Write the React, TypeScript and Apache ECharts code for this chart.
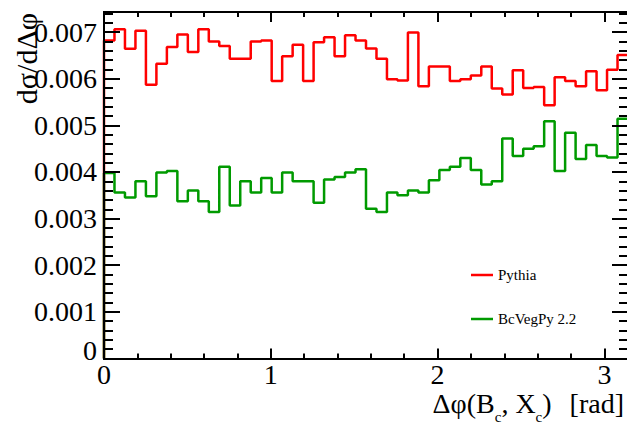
import React, { useEffect, useRef } from 'react';
import * as echarts from 'echarts';

// Histogram range / binning (x in rad)
const X_MIN = 0;
const X_MAX = Math.PI;
const N_BINS = 50;
const Y_MIN = 0;
const Y_MAX = 0.00743;

const seriesNames = ['Pythia', 'BcVegPy 2.2'];

// dσ/dΔφ per bin, Pythia (red)
const pythia = [
  0.00682, 0.00706, 0.00664, 0.00703, 0.00587, 0.00632, 0.00668, 0.00695, 0.00657, 0.00706,
  0.00680, 0.00670, 0.00643, 0.00643, 0.00680, 0.00682, 0.00595, 0.00648, 0.00673, 0.00595,
  0.00678, 0.00689, 0.00648, 0.00693, 0.00682, 0.00665, 0.00643, 0.00599, 0.00596, 0.00699,
  0.00584, 0.00626, 0.00626, 0.00595, 0.00599, 0.00607, 0.00626, 0.00579, 0.00566, 0.00618,
  0.00580, 0.00582, 0.00543, 0.00603, 0.00595, 0.00584, 0.00616, 0.00575, 0.00619, 0.00651,
];

// dσ/dΔφ per bin, BcVegPy 2.2 (green)
const bcvegpy = [
  0.00398, 0.00356, 0.00345, 0.00380, 0.00348, 0.00399, 0.00402, 0.00337, 0.00360, 0.00337,
  0.00314, 0.00411, 0.00328, 0.00380, 0.00356, 0.00387, 0.00356, 0.00399, 0.00380, 0.00380,
  0.00334, 0.00384, 0.00389, 0.00399, 0.00406, 0.00321, 0.00314, 0.00356, 0.00350, 0.00360,
  0.00356, 0.00382, 0.00404, 0.00411, 0.00430, 0.00404, 0.00373, 0.00380, 0.00472, 0.00434,
  0.00450, 0.00455, 0.00509, 0.00402, 0.00484, 0.00428, 0.00458, 0.00434, 0.00431, 0.00514,
];

const X_MAJOR = 1;
const X_MINOR = 0.2;
const Y_MAJOR = 0.001;
const Y_MINOR = 0.0002;

// x-axis title pieces: [text, isSubscript]
const xTitleParts: [string, boolean][] = [
  ['Δφ(B', false],
  ['c', true],
  [', X', false],
  ['c', true],
  [')', false],
  ['[rad]', false],
];
const yTitle = 'dσ/dΔφ';

const FONT_NAME = 'Liberation Serif';
const FONT = '"Liberation Serif", "Times New Roman", Times, serif';
const RED = '#ff0000';
const GREEN = '#009a00';

export default function App() {
  const ref = useRef<HTMLDivElement>(null);

  useEffect(() => {
    document.body.style.margin = '0';
    const chart = echarts.init(ref.current!, null, { renderer: 'svg' });

    const edges = Array.from({ length: N_BINS + 1 }, (_, i) => X_MIN + ((X_MAX - X_MIN) * i) / N_BINS);
    const toSteps = (vals: number[]) => {
      const pts: number[][] = [[edges[0], 0]];
      vals.forEach((v, i) => pts.push([edges[i], v]));
      pts.push([edges[N_BINS], vals[N_BINS - 1]]);
      return pts;
    };

    // measure title pieces to lay them out as a right-aligned line with subscripts
    const ctx = document.createElement('canvas').getContext('2d')!;
    const MAIN = 28;
    const SUB = 15;
    const measure = (t: string, size: number) => {
      ctx.font = `${size}px "${FONT_NAME}", serif`;
      return ctx.measureText(t).width;
    };
    const GAP_BEFORE_UNIT = 18;
    const widths = xTitleParts.map(([t, sub]) => measure(t, sub ? SUB : MAIN));
    const total = widths.reduce((a, b) => a + b, 0) + GAP_BEFORE_UNIT;
    let cx = 624 - total;
    const titleElems: any[] = [];
    xTitleParts.forEach(([t, sub], i) => {
      if (t === '[rad]') cx += GAP_BEFORE_UNIT;
      titleElems.push({
        type: 'text',
        x: cx,
        y: sub ? 417 : 403.5,
        style: {
          text: t,
          fontFamily: FONT,
          fontSize: sub ? SUB : MAIN,
          fill: '#000',
          align: 'left',
          textAlign: 'left',
          verticalAlign: 'middle',
          textVerticalAlign: 'middle',
        },
      });
      cx += widths[i];
    });

    const lineCommon = { show: true, onZero: false, lineStyle: { color: '#000', width: 2 } };
    const tickStyle = { color: '#000', width: 2 };

    const xAxisBase = (position: string, interval: number, len: number, labels: boolean) => ({
      type: 'value',
      position,
      min: X_MIN,
      max: X_MAX,
      interval,
      z: 5,
      splitLine: { show: false },
      axisLine: lineCommon,
      axisTick: { show: true, inside: true, length: len, lineStyle: tickStyle },
      axisLabel: labels
        ? {
            show: true,
            showMaxLabel: false,
            fontFamily: FONT,
            fontSize: 28,
            color: '#000',
            margin: 2,
          }
        : { show: false },
    });

    const yAxisBase = (position: string, interval: number, len: number, labels: boolean) => ({
      type: 'value',
      position,
      min: Y_MIN,
      max: Y_MAX,
      interval,
      z: 5,
      splitLine: { show: false },
      axisLine: lineCommon,
      axisTick: { show: true, inside: true, length: len, lineStyle: tickStyle },
      axisLabel: labels
        ? {
            show: true,
            showMaxLabel: false,
            fontFamily: FONT,
            fontSize: 28,
            color: '#000',
            margin: 7,
            formatter: (v: number) => (v === 0 ? '{z|0}' : v.toFixed(3)),
            rich: {
              z: { fontFamily: FONT, fontSize: 28, color: '#000', padding: [0, 0, 17, 0] },
            },
          }
        : { show: false },
    });

    chart.setOption({
      animation: false,
      backgroundColor: '#fff',
      grid: {
        left: 104,
        right: -1,
        top: 12,
        bottom: 67.5,
        containLabel: false,
        outerBoundsMode: 'none',
      },
      xAxis: [
        xAxisBase('bottom', X_MAJOR, 10, true),
        xAxisBase('bottom', X_MINOR, 5, false),
        xAxisBase('top', X_MAJOR, 10, false),
        xAxisBase('top', X_MINOR, 5, false),
      ],
      yAxis: [
        yAxisBase('left', Y_MAJOR, 16, true),
        yAxisBase('left', Y_MINOR, 9, false),
        yAxisBase('right', Y_MAJOR, 16, false),
        yAxisBase('right', Y_MINOR, 9, false),
      ],
      legend: {
        orient: 'vertical',
        left: 471,
        top: 267,
        padding: 0,
        itemGap: 28,
        itemWidth: 22,
        itemHeight: 2.5,
        icon: 'rect',
        itemStyle: { borderWidth: 0 },
        data: seriesNames,
        textStyle: { fontFamily: FONT, fontSize: 15, color: '#000', lineHeight: 16 },
      },
      series: [
        {
          name: seriesNames[0],
          type: 'line',
          step: 'end',
          data: toSteps(pythia),
          xAxisIndex: 0,
          yAxisIndex: 0,
          symbol: 'none',
          showSymbol: false,
          clip: false,
          color: RED,
          lineStyle: { color: RED, width: 2.5 },
          z: 2,
        },
        {
          name: seriesNames[1],
          type: 'line',
          step: 'end',
          data: toSteps(bcvegpy),
          xAxisIndex: 0,
          yAxisIndex: 0,
          symbol: 'none',
          showSymbol: false,
          clip: false,
          color: GREEN,
          lineStyle: { color: GREEN, width: 2.5 },
          z: 3,
        },
      ],
      graphic: [
        {
          type: 'text',
          x: 26,
          y: 13,
          rotation: Math.PI / 2,
          style: {
            text: yTitle,
            fontFamily: FONT,
            fontSize: 30,
            fill: '#000',
            align: 'right',
            textAlign: 'right',
            verticalAlign: 'middle',
            textVerticalAlign: 'middle',
          },
        },
        ...titleElems,
      ],
    });

    return () => chart.dispose();
  }, []);

  return <div ref={ref} style={{ width: 627, height: 426 }} />;
}
